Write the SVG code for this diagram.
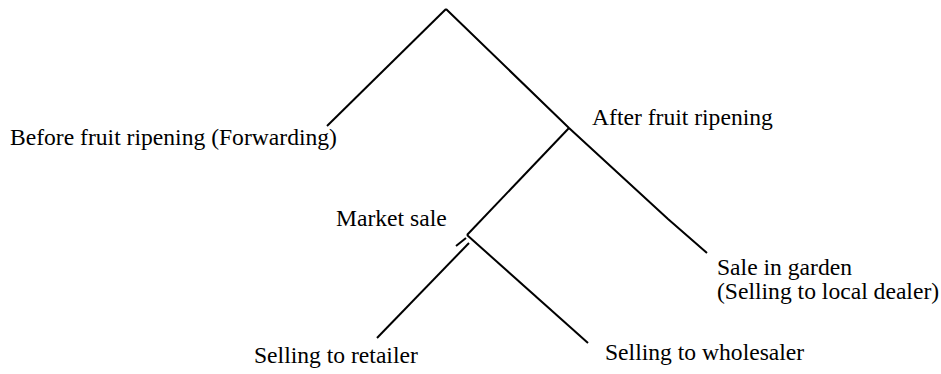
<svg xmlns="http://www.w3.org/2000/svg" width="941" height="374" viewBox="0 0 941 374">
<style>
.l{stroke:#000;stroke-width:2;fill:none}
.t{font-family:"Liberation Serif","Times New Roman",serif;font-size:23.6px;fill:#000}
</style>
<rect width="941" height="374" fill="#fff"/>
<g id="connectors">
<path class="l" d="M446,9 L327,126"/>
<path class="l" d="M446,9 L569,128 L668,219 L707,253"/>
<path class="l" d="M569,128 L467,235"/>
<path class="l" d="M456,246 L466,238"/>
<path class="l" d="M469,243 L377,338"/>
<path class="l" d="M467,235 L588,343"/>
</g>
<g id="before"><text class="t" x="10" y="145">Before fruit ripening (Forwarding)</text></g>
<g id="after"><text class="t" x="592" y="125">After fruit ripening</text></g>
<g id="market"><text class="t" x="336" y="226">Market sale</text></g>
<g id="garden"><text class="t" x="717" y="275">Sale in garden</text><text class="t" x="717" y="299">(Selling to local dealer)</text></g>
<g id="retailer"><text class="t" x="254" y="363">Selling to retailer</text></g>
<g id="wholesaler"><text class="t" x="605" y="360">Selling to wholesaler</text></g>
</svg>
